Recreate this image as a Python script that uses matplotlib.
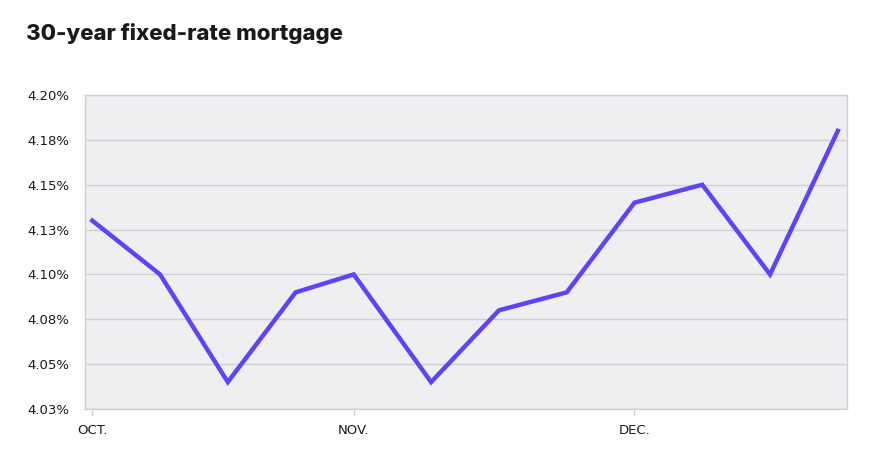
import matplotlib.pyplot as plt

# weekly 30-year fixed rate, x as days since first reading
days = [0, 7, 14, 21, 27, 35, 42, 49, 56, 63, 70, 77]
rates = [4.13, 4.10, 4.04, 4.09, 4.10, 4.04, 4.08, 4.09, 4.14, 4.15, 4.10, 4.18]
month_idx = [0, 4, 8]
month_labels = ['OCT.', 'NOV.', 'DEC.']
y_ticks = [4.025, 4.05, 4.075, 4.10, 4.125, 4.15, 4.175, 4.20]

fig = plt.figure(figsize=(8.7, 4.72), dpi=100)
ax = fig.add_axes([0.0977, 0.1335, 0.8759, 0.6652])
ax.set_facecolor('#efeff2')

ax.plot(days, rates, color='#5b45f8', lw=3.2, solid_joinstyle='miter', zorder=3)

ax.set_ylim(4.025, 4.20)
ax.set_xlim(-0.75, 77.95)
ax.set_yticks(y_ticks)
ax.set_yticklabels([f"{v + 1e-9:.2f}%" for v in y_ticks])
ax.set_xticks([days[i] for i in month_idx])
ax.set_xticklabels(month_labels)

ax.grid(axis='y', color='#cfcfd4', lw=1)
ax.set_axisbelow(True)
for s in ax.spines.values():
    s.set_color('#cfcfd4')
    s.set_linewidth(1)

ax.tick_params(axis='y', length=0, pad=11, labelsize=9.5, labelcolor='#1a1a1a')
ax.tick_params(axis='x', length=5, width=1, color='#cfcfd4', pad=6,
               labelsize=9.5, labelcolor='#1a1a1a')

fig.text(0.030, 0.93, '30-year fixed-rate mortgage', fontsize=16,
         fontweight='heavy', family='Inter', color='#1a1a1a', va='center')

fig.savefig('out.png', dpi=100)
